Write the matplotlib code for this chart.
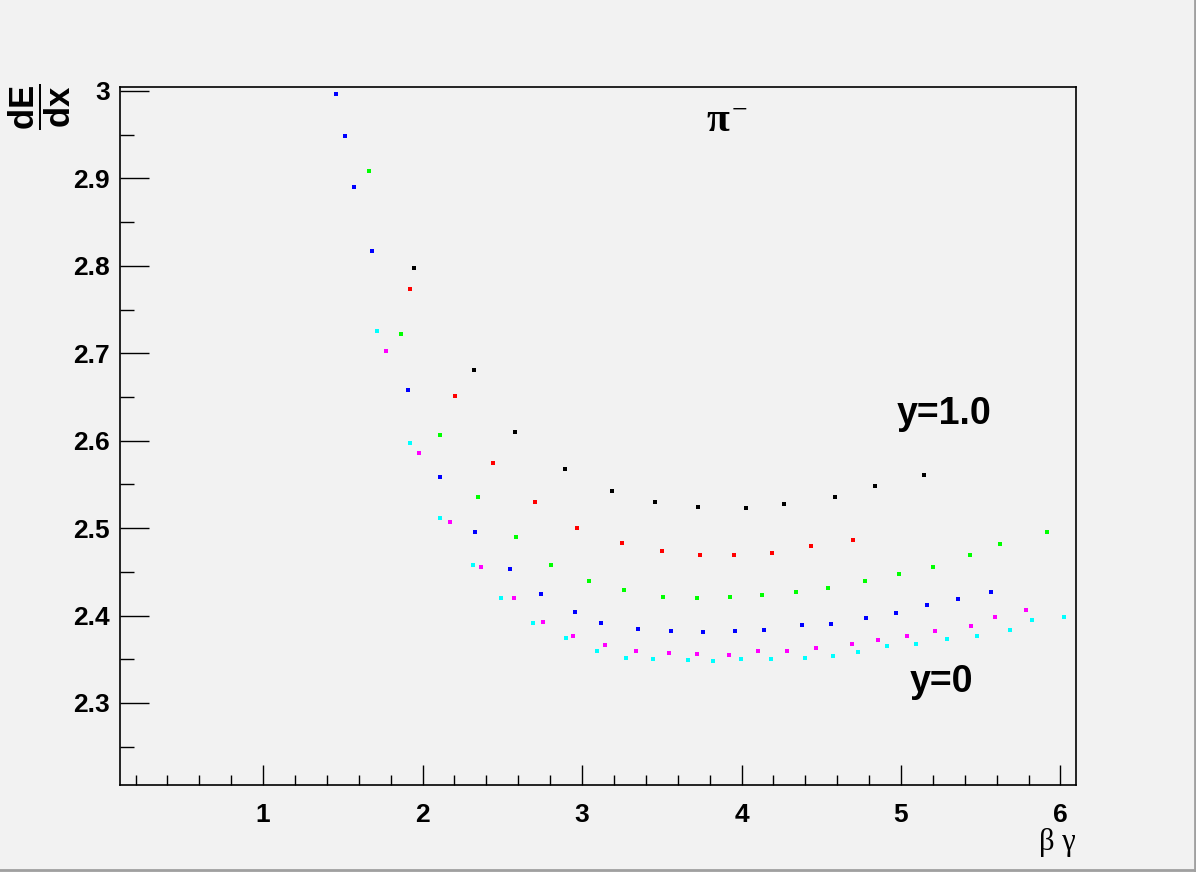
import matplotlib
matplotlib.use("Agg")
import matplotlib.pyplot as plt
from matplotlib.lines import Line2D

plt.rcParams['font.family'] = ['Liberation Sans', 'DejaVu Sans']
plt.rcParams['mathtext.fontset'] = 'custom'
plt.rcParams['mathtext.rm'] = 'Liberation Sans'
plt.rcParams['mathtext.bf'] = 'Liberation Sans:bold'

## Data: beta*gamma vs dE/dx, one series per y value (top = y=1.0, bottom = y=0)
bg_black = [1.947, 2.324, 2.581, 2.895, 3.189, 3.459, 3.729, 4.030, 4.268, 4.588, 4.839, 5.147]
de_black = [2.798, 2.681, 2.610, 2.568, 2.543, 2.530, 2.524, 2.523, 2.528, 2.536, 2.548, 2.561]

bg_red = [1.922, 2.205, 2.443, 2.706, 2.970, 3.252, 3.503, 3.742, 3.955, 4.193, 4.438, 4.701]
de_red = [2.774, 2.651, 2.575, 2.530, 2.500, 2.483, 2.474, 2.469, 2.469, 2.472, 2.479, 2.486]

bg_green = [1.665, 1.866, 2.110, 2.349, 2.587, 2.807, 3.045, 3.265, 3.509, 3.723,
            3.930, 4.130, 4.344, 4.545, 4.777, 4.990, 5.203, 5.435, 5.624, 5.918]
de_green = [2.909, 2.722, 2.607, 2.536, 2.490, 2.458, 2.440, 2.429, 2.421, 2.420,
            2.421, 2.424, 2.427, 2.432, 2.440, 2.448, 2.456, 2.469, 2.482, 2.495]

bg_blue = [1.458, 1.514, 1.571, 1.684, 1.910, 2.110, 2.330, 2.550, 2.744, 2.957, 3.120, 3.353,
           3.560, 3.760, 3.961, 4.143, 4.381, 4.563, 4.783, 4.971, 5.166, 5.360, 5.567]
de_blue = [2.997, 2.948, 2.890, 2.817, 2.658, 2.559, 2.496, 2.453, 2.425, 2.404, 2.392, 2.385,
           2.382, 2.381, 2.382, 2.384, 2.389, 2.390, 2.397, 2.403, 2.412, 2.419, 2.427]

bg_magenta = [1.772, 1.979, 2.174, 2.368, 2.575, 2.757, 2.945, 3.146, 3.340, 3.547, 3.723,
              3.923, 4.105, 4.287, 4.469, 4.695, 4.858, 5.040, 5.216, 5.442, 5.592, 5.787]
de_magenta = [2.703, 2.586, 2.507, 2.455, 2.420, 2.393, 2.377, 2.366, 2.359, 2.357, 2.356,
              2.355, 2.359, 2.360, 2.363, 2.368, 2.372, 2.377, 2.382, 2.388, 2.398, 2.406]

bg_cyan = [1.713, 1.922, 2.110, 2.317, 2.493, 2.694, 2.901, 3.095, 3.277, 3.447, 3.666, 3.823,
           3.999, 4.187, 4.400, 4.576, 4.733, 4.915, 5.097, 5.291, 5.479, 5.686, 5.824, 6.025]
de_cyan = [2.725, 2.597, 2.512, 2.458, 2.420, 2.392, 2.374, 2.360, 2.352, 2.350, 2.349, 2.348,
           2.350, 2.350, 2.351, 2.354, 2.358, 2.365, 2.367, 2.373, 2.377, 2.384, 2.395, 2.398]

series = [
    (bg_black, de_black, '#000000'),
    (bg_red, de_red, '#ff0000'),
    (bg_green, de_green, '#00ff00'),
    (bg_blue, de_blue, '#0000ff'),
    (bg_magenta, de_magenta, '#ff00ff'),
    (bg_cyan, de_cyan, '#00ffff'),
]

bg = '#f2f2f2'
fig = plt.figure(figsize=(11.96, 8.72), dpi=100, facecolor=bg)
ax = fig.add_axes([0.1, 0.1, 0.8, 0.8], facecolor=bg)

for x, y, c in series:
    ax.plot(x, y, linestyle='none', marker='s', ms=2.6, mew=0, color=c)

ax.set_xlim(0.1, 6.1)
ax.set_ylim(2.2064, 3.0043)

# ROOT-like ticks
ax.set_xticks([1, 2, 3, 4, 5, 6])
ax.set_xticks([x / 10 for x in range(2, 61, 2)], minor=True)
ax.set_yticks([2.3, 2.4, 2.5, 2.6, 2.7, 2.8, 2.9, 3.0])
ax.set_yticklabels(['2.3', '2.4', '2.5', '2.6', '2.7', '2.8', '2.9', '3'])
ax.set_yticks([2.25 + 0.05 * i for i in range(16)], minor=True)
ax.tick_params(axis='x', which='major', direction='in', length=14.4, width=1, pad=13,
               labelsize=19)
ax.tick_params(axis='x', which='minor', direction='in', length=7.2, width=1)
ax.tick_params(axis='y', which='major', direction='in', length=20.9, width=1, pad=7,
               labelsize=19)
ax.tick_params(axis='y', which='minor', direction='in', length=10.4, width=1)
for lab in ax.get_xticklabels() + ax.get_yticklabels():
    lab.set_fontweight('bold')
for s in ax.spines.values():
    s.set_linewidth(1.2)

# Labels and annotations
fig.text(1076 / 1196, 1 - 850 / 872, 'β γ', ha='right', va='baseline', fontsize=22,
         family='Liberation Serif')
fig.text(40 / 1196, 1 - 107 / 872, r'$\mathbf{\dfrac{dE}{dx}}$', rotation=90,
         ha='center', va='center', fontsize=25)
fig.text(718 / 1196, 1 - 121 / 872, 'π', ha='center', va='center', fontsize=30,
         family='Liberation Serif', fontweight='bold')
fig.text(739 / 1196, 1 - 111 / 872, '−', ha='center', va='center', fontsize=20,
         family='Liberation Serif')
fig.text(944 / 1196, 1 - 414 / 872, 'y=1.0', ha='center', va='center', fontsize=27,
         fontweight='bold')
fig.text(941 / 1196, 1 - 682 / 872, 'y=0', ha='center', va='center', fontsize=27,
         fontweight='bold')

# canvas bevel
fig.add_artist(Line2D([0, 1], [0.002, 0.002], transform=fig.transFigure, color='#a0a0a0', lw=2))
fig.add_artist(Line2D([0.999, 0.999], [0, 1], transform=fig.transFigure, color='#a0a0a0', lw=2))

fig.savefig('out.png', dpi=100, facecolor=bg)
